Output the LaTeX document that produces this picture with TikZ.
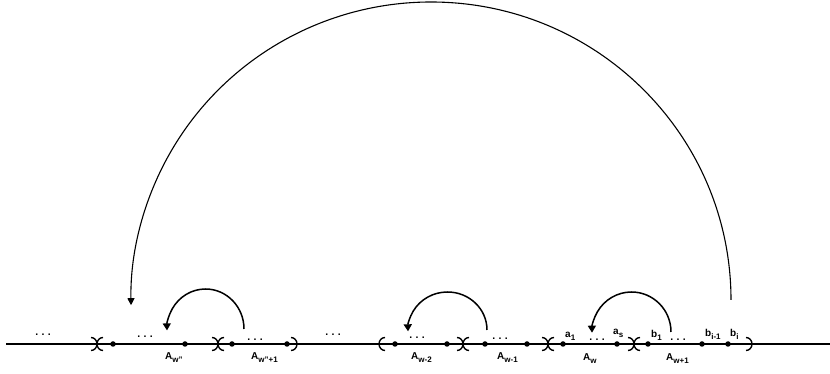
\documentclass[tikz,border=0pt]{standalone}
\usepackage{fontspec}
\setmainfont{Liberation Sans}
\usetikzlibrary{arrows.meta}
\newcommand{\lowidx}[1]{\raisebox{-3pt}{\fontsize{8}{8}\selectfont #1}}
\newcommand{\threedots}{.\kern3.3pt.\kern3.3pt.}

\begin{document}
\begin{tikzpicture}[x=1pt, y=1pt,
    seqline/.style={line width=1.5pt},
    pnt/.style={circle, fill=black, inner sep=0pt, minimum size=5.5pt},
    brk/.style={line width=1.4pt},
    gap/.style={anchor=base, inner sep=0pt, font=\fontsize{10.5}{11}\selectfont\bfseries},
    lbl/.style={anchor=base west, inner sep=0pt, font=\fontsize{10}{11}\selectfont\bfseries},
    hop/.style={line width=1.5pt, -{Triangle[width=8pt,length=7pt]}},
    jump/.style={line width=1.1pt, -{Triangle[width=7pt,length=7pt]}}]
    \useasboundingbox (0,0) rectangle (830,374);

    % Sequence line
    \coordinate (start) at (6,30);
    \coordinate (stop) at (830,30);
    \draw[seqline] (start) -- (stop);

    % Points on the line
    \foreach \x/\n in {113/p1, 185/p2, 232/p3, 287/p4, 395/p5, 447/p6, 485/p7,
                       527/p8, 563/p9, 617/p10, 648/p11, 702/p12, 728/p13}
        \node[pnt] (\n) at (\x,30) {};

    % Block borders
    \foreach \x in {97, 218, 463, 548, 634} {
        \draw[brk] ({\x-6},36.5) arc[start angle=90, end angle=-90, x radius=6, y radius=6.5];
        \draw[brk] ({\x+6},36.5) arc[start angle=90, end angle=270, x radius=6, y radius=6.5];
    }
    \draw[brk] (291,36.5) arc[start angle=90, end angle=-90, x radius=6, y radius=6.5];
    \draw[brk] (746,36.5) arc[start angle=90, end angle=-90, x radius=6, y radius=6.5];
    \draw[brk] (385,36.5) arc[start angle=90, end angle=270, x radius=6, y radius=6.5];

    % Gaps
    \foreach \x/\y in {43/38.3, 145/36.3, 255/33.3, 333/38.3, 417/35.3,
                       500/34.3, 597/33.3, 678/33.3}
        \node[gap] at (\x,\y) {\threedots};

    % Block names
    \node[lbl] (nwq) at (165,14) {A\lowidx{w"}};
    \node[lbl] (nwq1) at (251,14) {A\lowidx{w"+1}};
    \node[lbl] (nw2) at (411,14) {A\lowidx{w-2}};
    \node[lbl] (nw1) at (497,14) {A\lowidx{w-1}};
    \node[lbl] (nw) at (583,13) {A\lowidx{w}};
    \node[lbl] (nw01) at (666,13) {A\lowidx{w+1}};

    % Element names
    \node[lbl] (ea1) at ([shift={(2,6)}]p9.center) {a\lowidx{1}};
    \node[lbl] (eas) at ([shift={(-4,9)}]p10.center) {a\lowidx{s}};
    \node[lbl] (eb1) at ([shift={(3,6)}]p11.center) {b\lowidx{1}};
    \node[lbl] (ebi1) at ([shift={(3,7)}]p12.center) {b\lowidx{i-1}};
    \node[lbl] (ebi) at ([shift={(2,7)}]p13.center) {b\lowidx{i}};

    % Short hops
    \coordinate (h1) at (244,45);
    \coordinate (h2) at (487,44);
    \coordinate (h3) at (671,42);
    \draw[hop] (h1) arc[start angle=0, end angle=182, x radius=38.5, y radius=40];
    \draw[hop] (h2) arc[start angle=0, end angle=182, x radius=39.5, y radius=38];
    \draw[hop] (h3) arc[start angle=0, end angle=181, x radius=39.5, y radius=40];

    % Long jump back
    \coordinate (j0) at (731,74);
    \draw[jump] (j0) arc[start angle=0, end angle=181, x radius=300, y radius=298];
\end{tikzpicture}
\end{document}
